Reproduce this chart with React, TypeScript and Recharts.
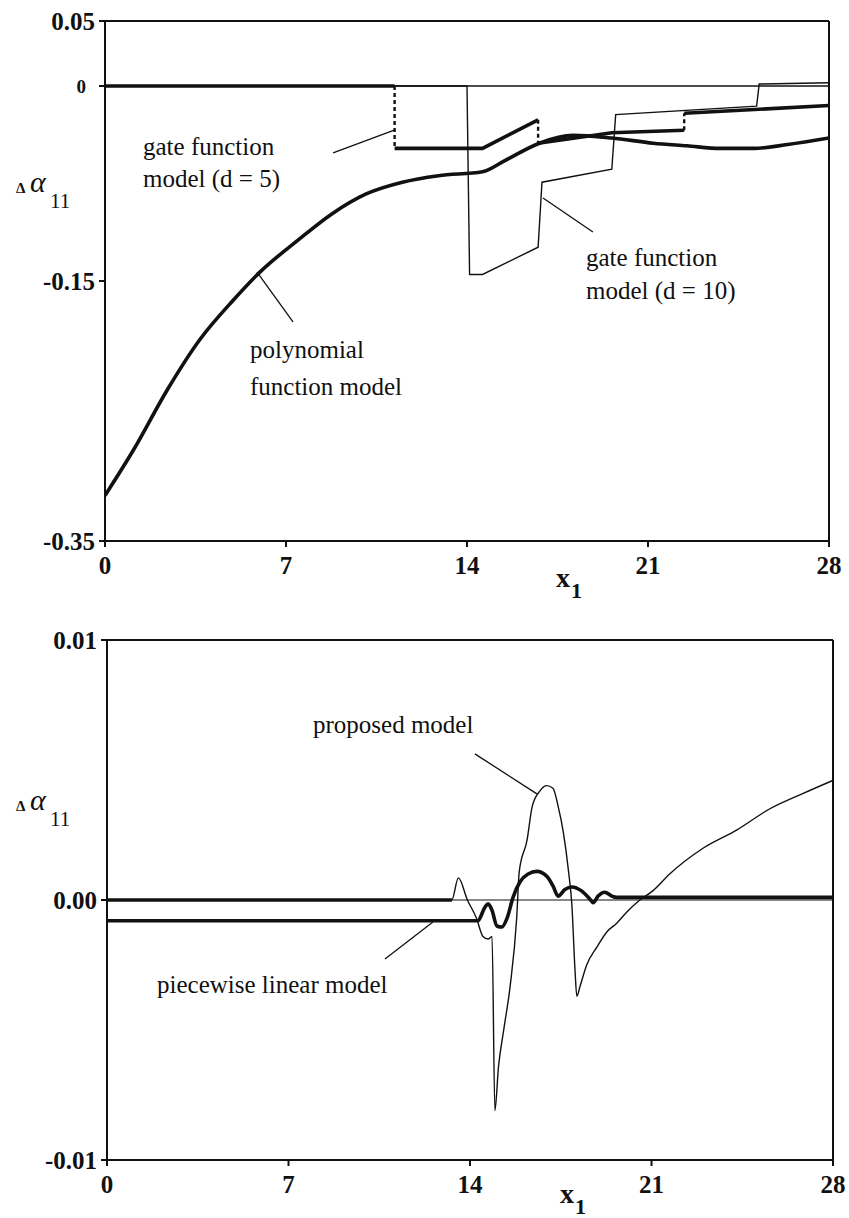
import { LineChart, Line, XAxis, YAxis, ReferenceLine } from "recharts";

// shared x axis
const X_TICKS = [0, 7, 14, 21, 28];

// ── upper panel: Δα11, polynomial vs gate function models ──────────────────
const UPPER_Y_TICKS = [0.05, 0, -0.15, -0.35];

const POLY_X = [0, 1.1, 2.4, 3.67, 4.95, 6.0, 7.5, 8.8, 10.1, 11.5, 12.9, 14.6, 15.5, 16.8, 18.1, 19.6, 21.2, 22.5, 23.8, 25.1, 26.4, 28];
const POLY_Y = [-0.315, -0.28, -0.234, -0.195, -0.165, -0.143, -0.118, -0.098, -0.083, -0.074, -0.069, -0.066, -0.057, -0.044, -0.038, -0.04, -0.044, -0.046, -0.048, -0.048, -0.045, -0.04];

// d = 5: repeated x marks a jump (drawn dashed)
const GATE5_X = [0, 11.2, 11.2, 14.6, 16.75, 16.75, 19.6, 22.4, 22.4, 28];
const GATE5_Y = [0, 0, -0.048, -0.048, -0.026, -0.044, -0.036, -0.034, -0.021, -0.015];

const GATE10_X = [0, 14.0, 14.1, 14.6, 16.75, 16.9, 19.6, 19.75, 25.2, 25.3, 28];
const GATE10_Y = [0, 0, -0.145, -0.145, -0.124, -0.074, -0.064, -0.022, -0.0155, 0.0015, 0.0025];

// ── lower panel: proposed vs piecewise linear model ────────────────────────
const LOWER_Y_TICKS = [0.01, 0, -0.01];

const PROPOSED_X = [0, 13.3, 13.55, 13.9, 14.25, 14.5, 14.7, 14.85, 14.96, 15.1, 15.3, 15.55, 15.8, 15.9, 16.2, 16.4, 16.7, 16.95, 17.2, 17.4, 17.6, 17.8, 17.93, 18.05, 18.12, 18.25, 18.5, 18.9, 19.3, 19.65, 20.05, 20.55, 21.05, 21.7, 23.0, 24.3, 25.55, 26.85, 28];
const PROPOSED_Y = [0, 0, 0.00085, 0, -0.0007, -0.0014, -0.0015, -0.0014, -0.0081, -0.0064, -0.005, -0.0033, -0.0007, 0.0011, 0.0023, 0.0036, 0.0042, 0.0044, 0.0043, 0.0036, 0.0026, 0.0011, -0.0002, -0.0027, -0.0037, -0.0033, -0.0025, -0.0018, -0.0012, -0.0009, -0.00046, 0, 0.00035, 0.001, 0.002, 0.0027, 0.0035, 0.0041, 0.0046];

const PIECEWISE_X = [0, 14.3, 14.58, 14.7, 14.85, 15.04, 15.23, 15.43, 15.66, 15.93, 16.24, 16.58, 16.97, 17.2, 17.4, 17.66, 17.93, 18.3, 18.62, 18.75, 18.94, 19.2, 19.47, 19.66, 28];
const PIECEWISE_Y = [-0.0008, -0.0008, -0.00027, -0.00015, -0.0004, -0.001, -0.00104, -0.0007, 0.0001, 0.0007, 0.001, 0.0011, 0.0009, 0.00054, 0.00015, 0.0004, 0.0005, 0.00035, 0.00004, -0.0001, 0.00015, 0.0003, 0.00015, 0.0001, 0.0001];

const SERIF = '"Liberation Serif", "Times New Roman", "DejaVu Serif", serif';
const INK = "#111";

// panel placement on the page
const UPPER_H = 615;
const LOWER_H = 603;

type Pt = { x: number; y: number };

const zip = (xs: number[], ys: number[]): Pt[] => xs.map((x, i) => ({ x, y: ys[i] }));

// split a step series into solid runs and the vertical jumps between them
function splitSteps(pts: Pt[]) {
  const runs: Pt[][] = [];
  const jumps: Pt[][] = [];
  let cur: Pt[] = [pts[0]];
  for (let i = 1; i < pts.length; i++) {
    if (pts[i].x === pts[i - 1].x) {
      runs.push(cur);
      jumps.push([pts[i - 1], pts[i]]);
      cur = [pts[i]];
    } else {
      cur.push(pts[i]);
    }
  }
  runs.push(cur);
  return { runs, jumps };
}

const serifStyle = { fontFamily: SERIF };
const axisStroke = { stroke: INK, strokeWidth: 2 };

function Txt({ x, y, size = 25, bold = false, italic = false, anchor = "start", children }: any) {
  return (
    <text
      x={x}
      y={y}
      textAnchor={anchor}
      fill={INK}
      fontSize={size}
      fontWeight={bold ? 700 : 400}
      fontStyle={italic ? "italic" : "normal"}
      style={serifStyle}
    >
      {children}
    </text>
  );
}

function XTick(props: any) {
  const { x, y, payload } = props;
  return (
    <text x={x} y={y} dy="0.71em" textAnchor="middle" fill={INK} fontSize={25} fontWeight={700} style={serifStyle}>
      {payload.value}
    </text>
  );
}

function YTick(props: any) {
  const { x, y, payload, formatter } = props;
  const label = formatter(payload.value);
  const small = label === "0";
  return (
    <text
      x={small ? x - 9 : x}
      y={y}
      dy="0.355em"
      textAnchor="end"
      fill={INK}
      fontSize={small ? 19 : 25}
      fontWeight={700}
      style={serifStyle}
    >
      {label}
    </text>
  );
}

// Δα11 axis caption; baseline of α given in svg coords
function AlphaLabel({ y }: { y: number }) {
  return (
    <g>
      <Txt x={16} y={y + 1} size={15} bold>Δ</Txt>
      <Txt x={30} y={y} size={30} italic>α</Txt>
      <Txt x={50} y={y + 16} size={21}>11</Txt>
    </g>
  );
}

function XLabel({ x, y }: { x: number; y: number }) {
  return (
    <g>
      <Txt x={x} y={y} size={28} bold>x</Txt>
      <Txt x={x + 15} y={y + 11} size={22} bold>1</Txt>
    </g>
  );
}

const fmtUpper = (v: number) => (v === 0 ? "0" : v.toFixed(2));
const fmtLower = (v: number) => v.toFixed(2);

function UpperPanel() {
  const gate5 = splitSteps(zip(GATE5_X, GATE5_Y));
  return (
    <LineChart width={849} height={UPPER_H} margin={{ top: 21, right: 20, left: 45, bottom: UPPER_H - 541 - 30 }}>
      <XAxis
        type="number"
        dataKey="x"
        domain={[0, 28]}
        ticks={X_TICKS}
        height={30}
        axisLine={axisStroke}
        tickLine={axisStroke}
        tickSize={6}
        tickMargin={9}
        tick={<XTick />}
        allowDataOverflow
      />
      <YAxis
        type="number"
        dataKey="y"
        domain={[-0.35, 0.05]}
        ticks={UPPER_Y_TICKS}
        width={60}
        axisLine={axisStroke}
        tickLine={axisStroke}
        tickSize={6}
        tickMargin={4}
        tick={<YTick formatter={fmtUpper} />}
        allowDataOverflow
      />
      <ReferenceLine y={0.05} stroke={INK} strokeWidth={2} />
      <ReferenceLine x={28} stroke={INK} strokeWidth={2} />
      <ReferenceLine y={0} stroke={INK} strokeWidth={1.3} />

      <Line data={zip(GATE10_X, GATE10_Y)} dataKey="y" type="linear" stroke={INK} strokeWidth={1.4} dot={false} isAnimationActive={false} />
      <Line data={zip(POLY_X, POLY_Y)} dataKey="y" type="monotone" stroke={INK} strokeWidth={3.6} dot={false} isAnimationActive={false} />
      {gate5.runs.map((run, i) => (
        <Line key={"g5r" + i} data={run} dataKey="y" type="linear" stroke={INK} strokeWidth={3.6} dot={false} isAnimationActive={false} />
      ))}
      {gate5.jumps.map((seg, i) => (
        <Line key={"g5j" + i} data={seg} dataKey="y" type="linear" stroke={INK} strokeWidth={2.4} strokeDasharray="4 3" dot={false} isAnimationActive={false} />
      ))}

      {/* leaders */}
      <ReferenceLine segment={[{ x: 8.82, y: -0.0515 }, { x: 11.21, y: -0.0338 }]} stroke={INK} strokeWidth={1.3} />
      <ReferenceLine segment={[{ x: 18.87, y: -0.1123 }, { x: 16.94, y: -0.0862 }]} stroke={INK} strokeWidth={1.3} />
      <ReferenceLine segment={[{ x: 7.27, y: -0.1815 }, { x: 5.88, y: -0.1431 }]} stroke={INK} strokeWidth={1.3} />

      <Txt x={143} y={155}>gate function</Txt>
      <Txt x={143} y={187}>model (d = 5)</Txt>
      <Txt x={586} y={266}>gate function</Txt>
      <Txt x={586} y={299}>model (d = 10)</Txt>
      <Txt x={250} y={358}>polynomial</Txt>
      <Txt x={250} y={395}>function model</Txt>

      <AlphaLabel y={192} />
      <XLabel x={556} y={587} />
    </LineChart>
  );
}

function LowerPanel() {
  // svg starts at page y = UPPER_H; plot spans page y 640..1160
  const top = 640 - UPPER_H;
  const off = UPPER_H;
  return (
    <LineChart width={849} height={LOWER_H} margin={{ top, right: 16, left: 47, bottom: LOWER_H - (1160 - off) - 30 }}>
      <XAxis
        type="number"
        dataKey="x"
        domain={[0, 28]}
        ticks={X_TICKS}
        height={30}
        axisLine={axisStroke}
        tickLine={axisStroke}
        tickSize={6}
        tickMargin={9}
        tick={<XTick />}
        allowDataOverflow
      />
      <YAxis
        type="number"
        dataKey="y"
        domain={[-0.01, 0.01]}
        ticks={LOWER_Y_TICKS}
        width={60}
        axisLine={axisStroke}
        tickLine={axisStroke}
        tickSize={6}
        tickMargin={4}
        tick={<YTick formatter={fmtLower} />}
        allowDataOverflow
      />
      <ReferenceLine y={0.01} stroke={INK} strokeWidth={2} />
      <ReferenceLine x={28} stroke={INK} strokeWidth={2} />
      <ReferenceLine y={0} stroke={INK} strokeWidth={1.2} />
      {/* flat start of the proposed model sits on the zero line */}
      <ReferenceLine segment={[{ x: PROPOSED_X[0], y: 0 }, { x: PROPOSED_X[1], y: 0 }]} stroke={INK} strokeWidth={3.4} />

      <Line data={zip(PROPOSED_X, PROPOSED_Y)} dataKey="y" type="monotone" stroke={INK} strokeWidth={1.4} dot={false} isAnimationActive={false} />
      <Line data={zip(PIECEWISE_X, PIECEWISE_Y)} dataKey="y" type="monotone" stroke={INK} strokeWidth={3.6} dot={false} isAnimationActive={false} />

      {/* leaders */}
      <ReferenceLine segment={[{ x: 14.19, y: 0.00562 }, { x: 16.58, y: 0.00408 }]} stroke={INK} strokeWidth={1.3} />
      <ReferenceLine segment={[{ x: 10.72, y: -0.00227 }, { x: 12.57, y: -0.00085 }]} stroke={INK} strokeWidth={1.3} />

      <Txt x={313} y={733 - off}>proposed model</Txt>
      <Txt x={157} y={993 - off}>piecewise linear model</Txt>

      <AlphaLabel y={810 - off} />
      <XLabel x={560} y={1203 - off} />
    </LineChart>
  );
}

export default function App() {
  return (
    <div style={{ width: 849, height: 1218, background: "#fff", fontFamily: SERIF }}>
      <style>{"body{margin:0;background:#fff}"}</style>
      <UpperPanel />
      <LowerPanel />
    </div>
  );
}
